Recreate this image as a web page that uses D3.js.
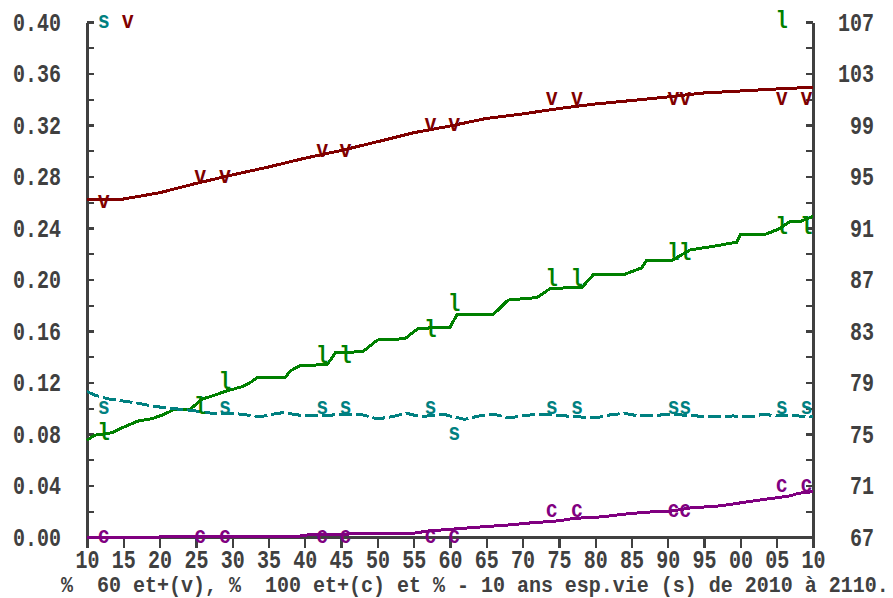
<!DOCTYPE html>
<html>
<head>
<meta charset="utf-8">
<script src="https://cdn.jsdelivr.net/npm/d3@7/dist/d3.min.js"></script>
<style>
  html, body { margin: 0; padding: 0; background: #ffffff; }
  svg { display: block; }
  text { font-family: "Liberation Mono", "DejaVu Sans Mono", monospace; font-weight: bold; }
</style>
</head>
<body>
<svg id="chart" width="893" height="598"></svg>
<script>
// ---- data ---------------------------------------------------------------
// share of people aged 60+ (v), left axis
const vYears  = [2010, 2015, 2020, 2025, 2030, 2035, 2040, 2045, 2050, 2055, 2060,
                 2065, 2070, 2075, 2080, 2085, 2090, 2095, 2100, 2105, 2110];
const vValues = [0.262, 0.2625, 0.2674, 0.2746, 0.2812, 0.2874, 0.2942, 0.3002, 0.3070, 0.3140, 0.3192,
                 0.3251, 0.3286, 0.3328, 0.3363, 0.3390, 0.3418, 0.3449, 0.3464, 0.3480, 0.3493];

// share within 10 years of life expectancy (s), left axis
const sYears  = [2010, 2011, 2013, 2015, 2017, 2019, 2021, 2024, 2027, 2030, 2032, 2034, 2035, 2037,
                 2039, 2041, 2044, 2048, 2050, 2052, 2054, 2056, 2059, 2060, 2062, 2064, 2066, 2068,
                 2070, 2072, 2076, 2080, 2082, 2084, 2086, 2088, 2090, 2094, 2096, 2099, 2102, 2103,
                 2105, 2108, 2110];
const sValues = [0.1130, 0.1103, 0.1072, 0.1056, 0.1040, 0.1017, 0.1002, 0.0986, 0.0963, 0.0961, 0.0948, 0.0934, 0.0948, 0.0966,
                 0.0948, 0.0940, 0.0948, 0.0948, 0.0917, 0.0934, 0.0961, 0.0934, 0.0955, 0.0940, 0.0914, 0.0940, 0.0955, 0.0924,
                 0.0940, 0.0955, 0.0940, 0.0924, 0.0948, 0.0961, 0.0940, 0.0940, 0.0955, 0.0940, 0.0934, 0.0940, 0.0934, 0.0955,
                 0.0940, 0.0940, 0.0934];

// life expectancy in years (l), right axis
const lYears  = [2010, 2011, 2013.5, 2014.5, 2017, 2019, 2020.5, 2022, 2024.2, 2025.8, 2027.5, 2029, 2031.5,
                 2032.5, 2033.5, 2037.3, 2038, 2039.3, 2043.1, 2044.2, 2048, 2050, 2053.8, 2055.6, 2060, 2061,
                 2066, 2068, 2072, 2073.8, 2078.2, 2079.7, 2083.8, 2086.4, 2087.1, 2090.6, 2093.1, 2096.5,
                 2099.5, 2100, 2103.4, 2105.2, 2106.8, 2108.2, 2110];
const lValues = [74.5, 74.9, 75.1, 75.4, 76.0, 76.2, 76.5, 76.9, 76.9, 77.7, 78.0, 78.3, 78.7,
                 79.0, 79.4, 79.4, 79.9, 80.3, 80.4, 81.3, 81.4, 82.3, 82.4, 83.2, 83.3, 84.3,
                 84.3, 85.4, 85.6, 86.3, 86.4, 87.35, 87.35, 87.9, 88.5, 88.5, 89.3, 89.6,
                 89.9, 90.5, 90.5, 90.9, 91.5, 91.5, 91.9];

// share of people aged 100+ (c), left axis
const cYears  = [2010, 2020, 2021, 2039, 2041, 2045, 2049, 2055, 2057, 2061, 2064, 2068, 2071, 2075,
                 2077, 2081, 2083, 2085, 2088, 2090, 2093, 2097, 2099, 2101, 2103, 2105, 2107, 2108, 2110];
const cValues = [0.0000, 0.0000, 0.0005, 0.0005, 0.0021, 0.0021, 0.0029, 0.0029, 0.0047, 0.0064, 0.0077, 0.0093, 0.0109, 0.0126,
                 0.0144, 0.0157, 0.0171, 0.0183, 0.0196, 0.0197, 0.0225, 0.0241, 0.0256, 0.0274, 0.0290, 0.0305, 0.0321, 0.0340, 0.0352];

// letter markers set along each curve
const markYears = [2012.3, 2025.6, 2029.0, 2042.4, 2045.6, 2057.3, 2060.6, 2074.0, 2077.5, 2090.8, 2092.4, 2105.7, 2109.1];
const vMarks = [0.26, 0.28, 0.28, 0.30, 0.30, 0.32, 0.32, 0.34, 0.34, 0.34, 0.34, 0.34, 0.34];
const sMarks = [0.10, null, 0.10, 0.10, 0.10, 0.10, 0.08, 0.10, 0.10, 0.10, 0.10, 0.10, 0.10];
const lMarks = [75, 77, 79, 81, 81, 83, 85, 87, 87, 89, 89, 91, 91];
const cMarks = [0.00, 0.00, 0.00, 0.00, 0.00, 0.00, 0.00, 0.02, 0.02, 0.02, 0.02, 0.04, 0.04];

// key letters along the top edge
const keyLetters = ["s", "v", "l"];
const keyYears   = [2012.3, 2015.6, 2105.7];

// axis ticks and labels
const xTicks      = [2010, 2015, 2020, 2025, 2030, 2035, 2040, 2045, 2050, 2055, 2060,
                     2065, 2070, 2075, 2080, 2085, 2090, 2095, 2100, 2105, 2110];
const xTickLabels = ["10", "15", "20", "25", "30", "35", "40", "45", "50", "55", "60",
                     "65", "70", "75", "80", "85", "90", "95", "00", "05", "10"];
const leftTicks   = [0.00, 0.02, 0.04, 0.06, 0.08, 0.10, 0.12, 0.14, 0.16, 0.18, 0.20,
                     0.22, 0.24, 0.26, 0.28, 0.30, 0.32, 0.34, 0.36, 0.38, 0.40];
const leftLabels  = ["0.00", "", "0.04", "", "0.08", "", "0.12", "", "0.16", "", "0.20",
                     "", "0.24", "", "0.28", "", "0.32", "", "0.36", "", "0.40"];
const rightTicks  = [67, 69, 71, 73, 75, 77, 79, 81, 83, 85, 87,
                     89, 91, 93, 95, 97, 99, 101, 103, 105, 107];
const rightLabels = ["67", "", "71", "", "75", "", "79", "", "83", "", "87",
                     "", "91", "", "95", "", "99", "", "103", "", "107"];
const title = "%  60 et+(v), %  100 et+(c) et % - 10 ans esp.vie (s) de 2010 à 2110.";

// ---- layout -------------------------------------------------------------
const W = 893, H = 598;
const margin = { top: 22, right: 80, bottom: 61, left: 87 };
const AXIS = "#404040";
const COL = { v: "#800000", s: "#008080", l: "#008000", c: "#800080" };
const SY = 1.25;  // tall pixel-style glyphs

const svg = d3.select("#chart");

const x  = d3.scaleLinear().domain([2010, 2110]).range([margin.left, W - margin.right]);
const yL = d3.scaleLinear().domain([0, 0.40]).range([H - margin.bottom, margin.top]);
const yR = d3.scaleLinear().domain([67, 107]).range([H - margin.bottom, margin.top]);

function tallText(sel, anchor, dx, baseline, sy) {
  sel.attr("text-anchor", anchor)
     .attr("x", dx)
     .attr("dy", null)
     .attr("y", baseline / sy)
     .attr("transform", `scale(1,${sy})`)
     .attr("fill", AXIS)
     .style("font-size", "20px");
}

function styleAxis(g) {
  g.select(".domain").attr("stroke", AXIS).attr("stroke-width", 2.8);
  g.selectAll(".tick line").attr("stroke", AXIS).attr("stroke-width", 2.4);
  g.attr("shape-rendering", "crispEdges");
}

// left axis
const gL = svg.append("g")
  .attr("transform", `translate(${margin.left},0)`)
  .call(d3.axisLeft(yL).tickValues(leftTicks)
          .tickFormat((d, i) => leftLabels[i])
          .tickSizeInner(-7).tickSizeOuter(0));
styleAxis(gL);
gL.selectAll(".tick text").call(tallText, "end", -26, 8, SY);

// right axis
const gR = svg.append("g")
  .attr("transform", `translate(${W - margin.right},0)`)
  .call(d3.axisRight(yR).tickValues(rightTicks)
          .tickFormat((d, i) => rightLabels[i])
          .tickSizeInner(-7).tickSizeOuter(0));
styleAxis(gR);
gR.selectAll(".tick text").call(tallText, "end", 61, 8, SY);

// bottom axis
const gB = svg.append("g")
  .attr("transform", `translate(0,${H - margin.bottom})`)
  .call(d3.axisBottom(x).tickValues(xTicks)
          .tickFormat((d, i) => xTickLabels[i])
          .tickSizeInner(11).tickSizeOuter(0));
styleAxis(gB);
gB.selectAll(".tick text").call(tallText, "middle", 0, 31, SY);

// title under the axis (spaces kept as written)
svg.append("text")
  .attr("x", 61)
  .attr("y", 592 / 1.1)
  .attr("transform", "scale(1,1.1)")
  .attr("xml:space", "preserve")
  .style("white-space", "pre")
  .attr("fill", AXIS)
  .style("font-size", "20px")
  .text(title);

// ---- series -------------------------------------------------------------
function drawLine(years, values, yScale, color, dash) {
  const pts = years.map((yr, i) => [yr, values[i]]);
  svg.append("path")
    .datum(pts)
    .attr("fill", "none")
    .attr("stroke", color)
    .attr("stroke-width", 3)
    .attr("stroke-dasharray", dash || null)
    .attr("shape-rendering", "crispEdges")
    .attr("d", d3.line().x(d => x(d[0])).y(d => yScale(d[1])));
}

drawLine(vYears, vValues, yL, COL.v);
drawLine(lYears, lValues, yR, COL.l);
drawLine(sYears, sValues, yL, COL.s, "13,4");
drawLine(cYears, cValues, yL, COL.c);

// ---- letter markers -------------------------------------------------------
function drawMarks(letter, marks, yScale, color) {
  const pts = markYears.map((yr, i) => [yr, marks[i]]).filter(d => d[1] !== null);
  const MS = 1.15;
  svg.append("g").selectAll("text")
    .data(pts)
    .join("text")
    .attr("text-anchor", "middle")
    .attr("transform", d => `translate(${x(d[0])},${yScale(d[1]) + 6}) scale(1,${MS})`)
    .attr("fill", color)
    .style("font-size", "20px")
    .text(letter);
}

drawMarks("s", sMarks, yL, COL.s);
drawMarks("v", vMarks, yL, COL.v);
drawMarks("l", lMarks, yR, COL.l);
drawMarks("c", cMarks, yL, COL.c);

// key letters on the top row
const keyColors = [COL.s, COL.v, COL.l];
const keyScales = [yL, yL, yR];
const keyValues = [0.40, 0.40, 107];
svg.append("g").selectAll("text")
  .data(keyLetters)
  .join("text")
  .attr("text-anchor", "middle")
  .attr("transform", (d, i) => `translate(${x(keyYears[i])},${keyScales[i](keyValues[i]) + 6}) scale(1,1.15)`)
  .attr("fill", (d, i) => keyColors[i])
  .style("font-size", "20px")
  .text(d => d);
</script>
</body>
</html>
